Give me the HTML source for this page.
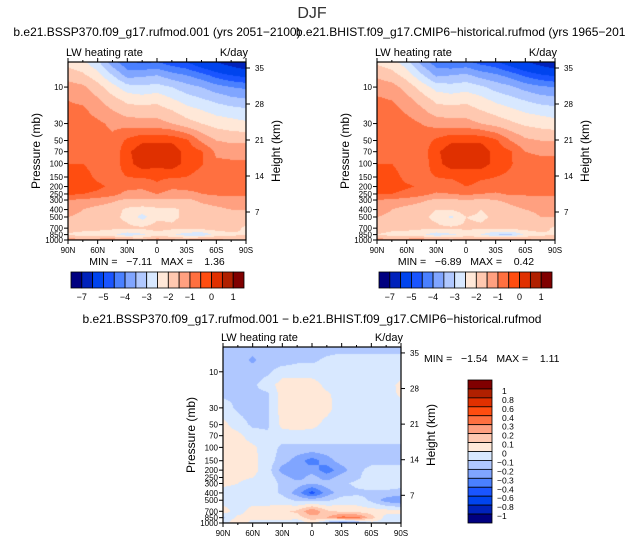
<!DOCTYPE html>
<html><head><meta charset="utf-8">
<style>
body{margin:0;background:#fff;}
#root{position:relative;width:625px;height:545px;overflow:hidden;font-family:"Liberation Sans",sans-serif;}
canvas{position:absolute;}
svg{position:absolute;left:0;top:0;}
text{white-space:pre;}
</style></head>
<body>
<div id="root">
<canvas id="c1"></canvas>
<canvas id="c2"></canvas>
<canvas id="c3"></canvas>
<svg id="s" width="625" height="545"></svg>
</div>
<script>
// ---- data ----
const lats = [90,75,60,45,30,15,0,-15,-30,-45,-60,-75,-90];
const pres = [4.7,7,10,15,20,30,50,70,100,150,200,250,300,400,500,700,850,1000];
const ssp = [
[-2.2,-2.4,-2.9,-3.8,-4.4,-4.6,-4.5,-4.8,-5.0,-5.5,-6.0,-6.5,-7.0],
[-1.7,-1.9,-2.3,-3.0,-3.7,-3.6,-3.5,-3.8,-4.0,-4.3,-4.7,-5.0,-5.2],
[-1.3,-1.4,-1.8,-2.3,-2.8,-2.9,-2.8,-3.0,-3.3,-3.5,-3.8,-4.0,-4.1],
[-1.0,-1.1,-1.4,-1.8,-2.1,-2.2,-2.1,-2.4,-2.7,-2.9,-3.1,-3.3,-3.4],
[-0.9,-0.9,-1.2,-1.5,-1.8,-1.8,-1.8,-2.0,-2.3,-2.5,-2.7,-2.8,-2.9],
[-0.7,-0.8,-0.9,-1.1,-1.2,-1.3,-1.3,-1.5,-1.8,-2.0,-2.2,-2.3,-2.4],
[-0.6,-0.6,-0.8,-0.9,-0.4,-0.1,-0.1,-0.1,-0.4,-1.1,-1.5,-1.6,-1.6],
[-0.6,-0.6,-0.8,-0.9,-0.1,0.3,0.3,0.3,-0.2,-0.45,-1.1,-1.2,-1.2],
[-0.5,-0.5,-0.7,-0.8,-0.2,0.3,0.2,0.3,-0.2,-0.45,-0.9,-0.9,-0.9],
[-0.3,-0.3,-0.6,-0.7,-0.5,-0.45,-0.4,-0.45,-0.5,-0.7,-0.8,-0.8,-0.8],
[-0.3,-0.3,-0.4,-0.6,-0.8,-0.9,-0.6,-0.9,-0.8,-0.8,-0.8,-0.8,-0.8],
[-0.4,-0.5,-0.6,-0.8,-1.2,-1.2,-1.0,-1.2,-1.2,-1.0,-0.9,-0.9,-0.9],
[-1.0,-1.1,-1.2,-1.4,-1.6,-1.6,-1.6,-1.6,-1.6,-1.4,-1.3,-1.2,-1.2],
[-1.3,-1.5,-1.7,-1.8,-2.1,-2.2,-2.1,-2.1,-1.9,-1.7,-1.6,-1.5,-1.5],
[-1.5,-1.6,-1.7,-1.9,-2.1,-2.7,-2.1,-2.1,-1.9,-1.8,-1.8,-1.7,-1.7],
[-1.7,-1.8,-1.8,-1.9,-1.9,-1.9,-1.8,-1.9,-1.8,-1.8,-1.8,-1.8,-2.1],
[-2.1,-2.2,-2.3,-2.4,-2.8,-2.6,-2.2,-2.4,-2.8,-2.9,-2.3,-2.1,-2.0],
[-1.2,-1.3,-1.2,-1.1,-1.3,-1.5,-1.2,-1.4,-1.4,-1.2,-1.3,-1.6,-1.8]];
const hist = [
[-2.1,-2.3,-2.8,-3.7,-4.3,-4.5,-4.4,-4.7,-4.9,-5.4,-5.9,-6.4,-6.9],
[-1.6,-1.8,-2.2,-2.9,-3.6,-3.5,-3.4,-3.7,-3.9,-4.2,-4.6,-4.9,-5.1],
[-1.2,-1.3,-1.7,-2.2,-2.7,-2.8,-2.7,-2.9,-3.2,-3.4,-3.7,-3.9,-4.0],
[-0.9,-1.0,-1.3,-1.7,-2.1,-2.2,-2.1,-2.3,-2.6,-2.8,-3.0,-3.2,-3.3],
[-0.8,-0.8,-1.1,-1.4,-1.8,-1.8,-1.8,-2.0,-2.2,-2.4,-2.6,-2.7,-2.8],
[-0.7,-0.7,-0.8,-1.0,-1.2,-1.3,-1.3,-1.5,-1.7,-1.9,-2.1,-2.2,-2.3],
[-0.6,-0.6,-0.7,-0.8,-0.4,-0.1,-0.1,-0.1,-0.4,-1.0,-1.4,-1.5,-1.5],
[-0.6,-0.6,-0.7,-0.8,-0.1,0.3,0.3,0.3,-0.2,-0.45,-1.0,-1.1,-1.1],
[-0.5,-0.5,-0.7,-0.8,-0.2,0.3,0.2,0.3,-0.2,-0.45,-0.8,-0.8,-0.8],
[-0.35,-0.35,-0.6,-0.65,-0.5,-0.45,-0.3,-0.45,-0.5,-0.6,-0.7,-0.7,-0.7],
[-0.35,-0.35,-0.45,-0.55,-0.6,-0.7,-0.5,-0.6,-0.6,-0.7,-0.7,-0.75,-0.75],
[-0.45,-0.5,-0.6,-0.8,-1.1,-1.0,-0.9,-1.0,-1.1,-0.9,-0.9,-0.9,-0.9],
[-1.0,-1.1,-1.2,-1.4,-1.6,-1.6,-1.5,-1.6,-1.5,-1.4,-1.3,-1.2,-1.2],
[-1.3,-1.5,-1.7,-1.8,-2.0,-2.0,-1.7,-2.0,-1.8,-1.6,-1.5,-1.4,-1.4],
[-1.5,-1.6,-1.7,-1.9,-2.1,-2.6,-2.0,-2.1,-1.9,-1.8,-1.7,-1.5,-1.5],
[-1.7,-1.8,-1.8,-1.9,-1.9,-1.9,-1.9,-1.9,-1.8,-1.8,-1.8,-1.8,-2.1],
[-2.0,-2.2,-2.3,-2.4,-2.8,-2.6,-2.3,-2.5,-3.0,-3.1,-2.4,-2.1,-2.0],
[-1.2,-1.4,-1.2,-1.1,-1.3,-1.4,-1.3,-1.2,-1.0,-1.0,-1.3,-1.6,-1.8]];
const diff = [
[-0.15,-0.15,-0.15,-0.15,-0.15,-0.15,-0.15,-0.15,-0.15,-0.15,-0.15,-0.15,-0.15],
[-0.15,-0.15,-0.22,-0.15,-0.15,-0.12,-0.12,-0.08,-0.05,-0.05,-0.05,-0.05,-0.05],
[-0.15,-0.15,-0.15,-0.12,-0.05,-0.05,-0.05,-0.05,-0.05,-0.05,-0.05,-0.05,-0.05],
[-0.12,-0.12,-0.12,-0.05,0.05,0.05,0.05,-0.03,-0.05,-0.05,-0.05,-0.05,0.03],
[-0.12,-0.12,-0.12,-0.12,0.05,0.05,0.05,0.02,-0.05,-0.05,-0.05,-0.05,0.02],
[-0.05,-0.12,-0.15,-0.12,0.05,0.05,0.05,0.03,-0.05,-0.05,-0.05,-0.05,-0.05],
[0.03,-0.05,-0.12,-0.12,0.03,0.05,0.03,-0.03,-0.05,-0.05,-0.05,-0.05,-0.05],
[0.05,0.03,-0.05,-0.08,-0.05,-0.05,-0.05,-0.05,-0.05,-0.05,-0.05,-0.05,-0.05],
[0.05,0.05,0.02,-0.05,-0.12,-0.12,-0.12,-0.12,-0.12,-0.12,-0.12,-0.12,-0.12],
[0.05,0.05,0.03,-0.05,-0.15,-0.25,-0.35,-0.25,-0.15,-0.12,-0.12,-0.15,-0.15],
[0.05,0.05,0.03,-0.05,-0.25,-0.3,-0.25,-0.35,-0.25,-0.12,-0.08,-0.05,-0.05],
[0.05,0.03,0.0,-0.05,-0.15,-0.25,-0.15,-0.25,-0.15,-0.12,-0.05,-0.05,-0.05],
[0.03,0.0,-0.05,-0.05,-0.12,-0.15,-0.2,-0.15,-0.12,-0.08,-0.05,-0.05,-0.05],
[-0.05,-0.05,-0.05,-0.05,-0.12,-0.25,-0.45,-0.25,-0.15,-0.12,-0.12,-0.12,-0.15],
[-0.05,-0.05,-0.05,-0.05,-0.05,-0.12,-0.15,-0.12,-0.05,-0.05,-0.12,-0.25,-0.3],
[0.05,-0.05,0.05,0.05,0.08,0.12,0.3,0.12,0.08,0.06,0.05,0.05,0.03],
[-0.12,0.03,0.03,0.05,0.05,0.05,0.15,0.2,0.35,0.35,0.15,-0.05,-0.05],
[-0.05,0.1,-0.05,-0.05,-0.05,-0.12,0.05,-0.2,-0.4,-0.3,-0.05,-0.05,-0.05]];
const levelsA = [-7,-6,-5,-4.5,-4,-3.5,-3,-2.5,-2,-1.5,-1,-0.5,0,0.5,1];
const levelsB = [-1,-0.8,-0.6,-0.4,-0.3,-0.2,-0.1,0,0.1,0.2,0.3,0.4,0.6,0.8,1];
const cbarLabelsA = ["-7","-5","-4","-3","-2","-1","0","1"];
const cbarLabelsB = ["1","0.8","0.6","0.4","0.3","0.2","0.1","0","-0.1","-0.2","-0.3","-0.4","-0.6","-0.8","-1"];
const pLabels = [10,30,50,70,100,150,200,250,300,400,500,700,850,1000];
const hLabels = [35,28,21,14,7];
const latLabels = ["90N","60N","30N","0","30S","60S","90S"];
const colors = ["#000080","#0022bb","#0044ee","#1a55ff","#4a80ff","#80a5ff","#b0c8ff","#d8e8ff","#ffe8d8","#ffc8b0","#ffa080","#ff7040","#ff4d10","#e03000","#b02000","#800000"];

const root = document.getElementById('root');
const S = document.getElementById('s');
const NS = "http://www.w3.org/2000/svg";
function el(tag, attrs, text){const e=document.createElementNS(NS,tag);for(const k in attrs)e.setAttribute(k,attrs[k]);if(text!==undefined)e.textContent=text;S.appendChild(e);return e;}
function hex(c){return [parseInt(c.slice(1,3),16),parseInt(c.slice(3,5),16),parseInt(c.slice(5,7),16)];}
const rgb = colors.map(hex);

function panel(cv, grid, levels, x0, y0, w, h){
  const pTop = 4.7, pBot = 1000;
  const ly = p => y0 + h*(Math.log10(p)-Math.log10(pTop))/(Math.log10(pBot)-Math.log10(pTop));
  const lx = lat => x0 + w*(90-lat)/180;
  cv.width = w; cv.height = h; cv.style.left = x0+'px'; cv.style.top = y0+'px';
  const ctx = cv.getContext('2d'); const img = ctx.createImageData(w,h);
  const lp = pres.map(p=>Math.log10(p));
  for(let j=0;j<h;j++){
    const L = Math.log10(pTop) + (j+0.5)/h*(Math.log10(pBot)-Math.log10(pTop));
    let r=0; while(r<pres.length-2 && lp[r+1]<L) r++;
    let fy=(L-lp[r])/(lp[r+1]-lp[r]); fy=Math.max(0,Math.min(1,fy));
    for(let i=0;i<w;i++){
      const lat = 90 - (i+0.5)/w*180;
      let c=0; while(c<lats.length-2 && lats[c+1]>lat) c++;
      const fx=(lats[c]-lat)/(lats[c]-lats[c+1]);
      const v=(grid[r][c]*(1-fx)+grid[r][c+1]*fx)*(1-fy)+(grid[r+1][c]*(1-fx)+grid[r+1][c+1]*fx)*fy;
      let k=0; while(k<levels.length && v>=levels[k]) k++;
      const col=rgb[k]; const o=(j*w+i)*4;
      img.data[o]=col[0];img.data[o+1]=col[1];img.data[o+2]=col[2];img.data[o+3]=255;
    }
  }
  ctx.putImageData(img,0,0);
  el('rect',{x:x0,y:y0,width:w,height:h,fill:'none',stroke:'#000','stroke-width':1.2,});
  for(let lat=90;lat>=-90;lat-=15){
    const x=lx(lat); const major = lat%30===0;
    el('line',{x1:x,y1:y0+h,x2:x,y2:y0+h+(major?4:2),stroke:'#000','stroke-width':1});
    el('line',{x1:x,y1:y0,x2:x,y2:y0-(major?4:2),stroke:'#000','stroke-width':1});
  }
  latLabels.forEach((t,i)=>{
    const e=el('text',{x:lx(90-30*i),y:y0+h+13,'font-size':8,'text-anchor':'middle'},t);
    
    
  });
  pLabels.forEach(p=>{
    const y=ly(p);
    el('line',{x1:x0,y1:y,x2:x0-4,y2:y,stroke:'#000','stroke-width':1});
    const e=el('text',{x:x0-5,y:y+3,'font-size':8,'text-anchor':'end'},String(p));
    
    
  });
  hLabels.forEach((hk,i)=>{
    const y=y0+h*(6+36*i)/178;
    el('line',{x1:x0+w,y1:y,x2:x0+w+4,y2:y,stroke:'#000','stroke-width':1});
    const e=el('text',{x:x0+w+9,y:y+3,'font-size':8},String(hk));
    
    
  });
  el('text',{x:x0-2,y:y0-6,'font-size':11,},'LW heating rate');
  el('text',{x:x0+w+2,y:y0-6,'font-size':11,'text-anchor':'end',},'K/day');
  el('text',{x:0,y:0,'font-size':12,'text-anchor':'middle',transform:`translate(${x0-28},${y0+h/2}) rotate(-90)`,},'Pressure (mb)');
  el('text',{x:0,y:0,'font-size':12,'text-anchor':'middle',transform:`translate(${x0+w+34},${y0+h/2}) rotate(-90)`,},'Height (km)');
}
function hbar(x0,y0,w,h){
  const bw=w/16;
  colors.forEach((c,i)=>{
    const r=el('rect',{x:x0+i*bw,y:y0,width:bw,height:h,fill:c,stroke:'#000','stroke-width':0.8});
    
    
  });
  cbarLabelsA.forEach((t,i)=>{
    const e=el('text',{x:x0+bw*(1+2*i),y:y0+h+12,'font-size':9,'text-anchor':'middle'},t.replace('-','\u2212'));
    
    
  });
}
function vbar(x0,y0,w,h){
  const bh=h/16;
  colors.slice().reverse().forEach((c,i)=>{
    const r=el('rect',{x:x0,y:y0+i*bh,width:w,height:bh,fill:c,stroke:'#000','stroke-width':0.8});
    
    
  });
  cbarLabelsB.forEach((t,i)=>{
    const neg=t[0]==='-';
    const e=el('text',{x:x0+w+(neg?5:10),y:y0+bh*(i+1)+5,'font-size':8.5},t.replace('-','\u2212'));
    
    
  });
}
el('text',{x:312,y:18,'font-size':16,'text-anchor':'middle',fill:'#333',},'DJF');
el('text',{x:157,y:36,'font-size':12,'text-anchor':'middle',},'b.e21.BSSP370.f09_g17.rufmod.001 (yrs 2051\u22122100)');
el('text',{x:466,y:36,'font-size':12,'text-anchor':'middle',},'b.e21.BHIST.f09_g17.CMIP6\u2212historical.rufmod (yrs 1965\u22122014)');
el('text',{x:312,y:323,'font-size':12,'text-anchor':'middle',},'b.e21.BSSP370.f09_g17.rufmod.001 \u2212 b.e21.BHIST.f09_g17.CMIP6\u2212historical.rufmod');
panel(document.getElementById('c1'), ssp, levelsA, 68, 62, 178, 178);
panel(document.getElementById('c2'), hist, levelsA, 377, 62, 178, 178);
panel(document.getElementById('c3'), diff, levelsB, 223, 347, 178, 176);
el('text',{x:157,y:265,'font-size':10.5,'text-anchor':'middle',},'MIN =   \u22127.11   MAX =    1.36');
el('text',{x:466,y:265,'font-size':10.5,'text-anchor':'middle',},'MIN =   \u22126.89   MAX =    0.42');
el('text',{x:424,y:362,'font-size':10.5,},'MIN =   \u22121.54   MAX =    1.11');
hbar(71,272,173,16);
hbar(379,272,173,16);
vbar(468,380,24,143);
</script>
</body></html>
